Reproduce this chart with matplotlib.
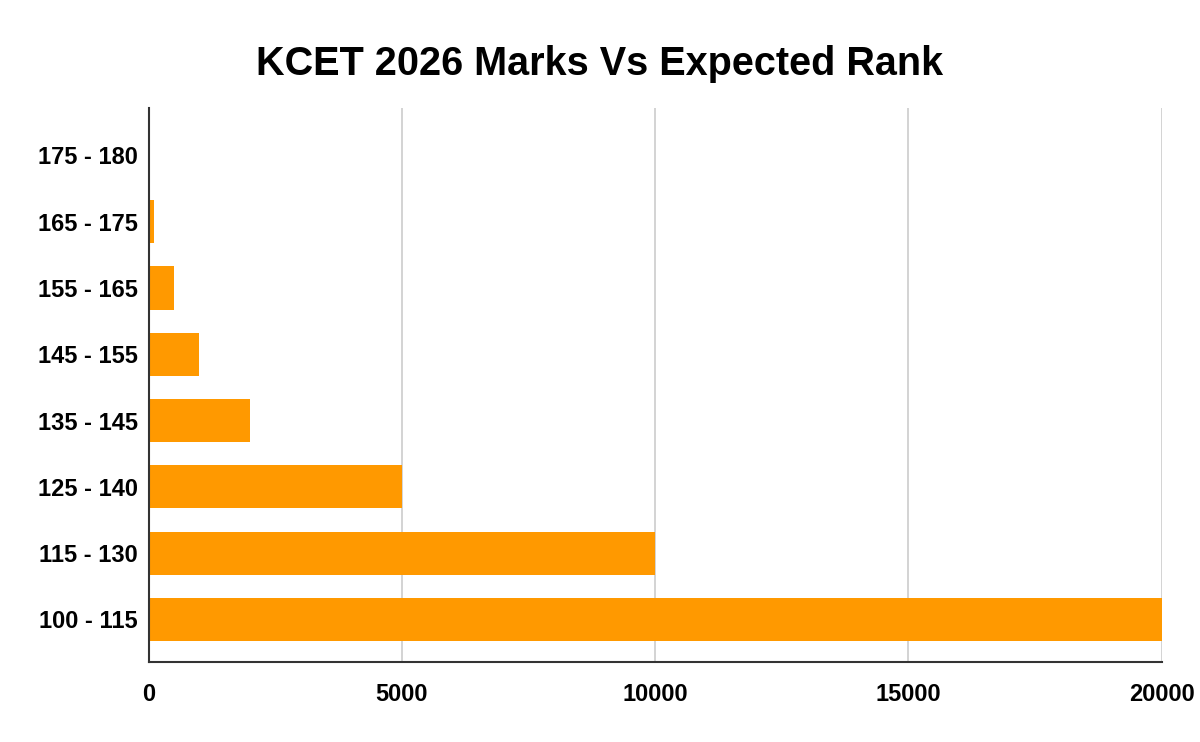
import matplotlib
matplotlib.use("Agg")
import matplotlib.pyplot as plt

ranges = ["100 - 115", "115 - 130", "125 - 140", "135 - 145",
          "145 - 155", "155 - 165", "165 - 175", "175 - 180"]
ranks = [20000, 10000, 5000, 2000, 1000, 500, 100, 0]

plt.rcParams['font.family'] = ['Liberation Sans', 'DejaVu Sans']

fig = plt.figure(figsize=(12, 7.42), dpi=100)
ax = fig.add_axes([0.124, 0.108, 0.844, 0.746])

ypos = list(range(len(ranges)))
ax.barh(ypos, ranks, height=0.65, color="#ff9900", zorder=3)

ax.set_xlim(0, 20000)
ax.set_ylim(-0.64, 7.71)
ax.set_xticks([0, 5000, 10000, 15000, 20000])
ax.set_yticks(ypos)
ax.set_yticklabels(ranges)
ax.grid(axis='x', color="#cccccc", linewidth=1.2, zorder=0)
ax.tick_params(axis='y', length=0, labelsize=17, pad=8)
ax.tick_params(axis='x', length=0, labelsize=17, pad=15)
for lab in ax.get_xticklabels() + ax.get_yticklabels():
    lab.set_fontweight('bold')

for s in ['top', 'right']:
    ax.spines[s].set_visible(False)
ax.spines['left'].set_color("#333333")
ax.spines['bottom'].set_color("#333333")
ax.spines['left'].set_linewidth(1.5)
ax.spines['bottom'].set_linewidth(1.5)
ax.spines['left'].set_zorder(4)

fig.text(0.5, 0.914, "KCET 2026 Marks Vs Expected Rank", ha='center', va='center',
         fontsize=28.5, fontweight='bold')

plt.savefig("out.png", dpi=100)
